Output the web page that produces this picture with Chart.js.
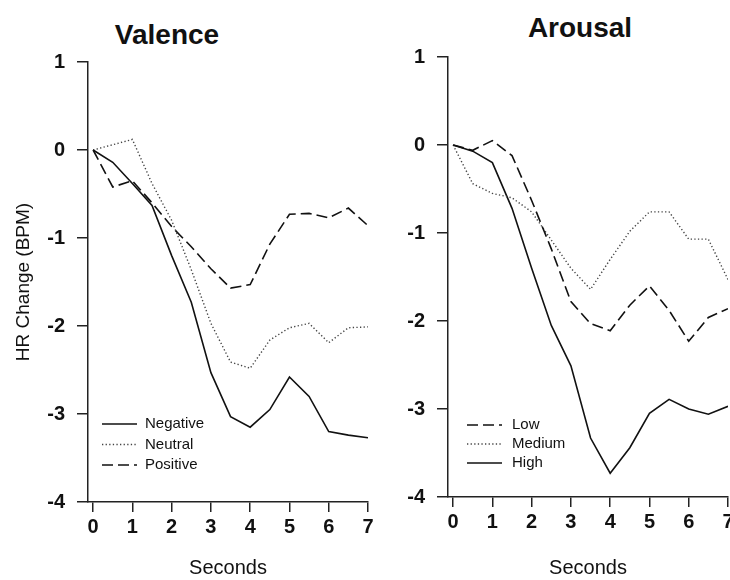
<!DOCTYPE html>
<html>
<head>
<meta charset="utf-8">
<title>HR Change - Valence / Arousal</title>
<script src="https://cdn.jsdelivr.net/npm/chart.js@4.4.1/dist/chart.umd.min.js"></script>
<style>
  html, body { margin: 0; padding: 0; background: #fff; overflow: hidden; }
  body { width: 730px; height: 580px; position: relative; font-family: "Liberation Sans", Arial, sans-serif; }
  canvas { position: absolute; }
  .title { position: absolute; transform: translate(-50%, -50%); font-weight: bold; font-size: 28px; color: #111; white-space: nowrap; }
</style>
</head>
<body>
<div class="title" style="left:167px; top:35px;">Valence</div>
<div class="title" style="left:580px; top:28px;">Arousal</div>
<canvas id="valenceChart" width="385" height="580" style="left:0; top:0;"></canvas>
<canvas id="arousalChart" width="400" height="585" style="left:360px; top:-5px;"></canvas>
<script>
// Tijdstippen (seconden) en tick labels
const seconds = [0, 0.5, 1, 1.5, 2, 2.5, 3, 3.5, 4, 4.5, 5, 5.5, 6, 6.5, 7];
const xTicks = [0, 1, 2, 3, 4, 5, 6, 7];
const yTicks = [1, 0, -1, -2, -3, -4];

// Valence: HR change (BPM)
const negative = [0, -0.14, -0.38, -0.63, -1.2, -1.73, -2.53, -3.03, -3.15, -2.95, -2.58, -2.8, -3.2, -3.24, -3.27];
const neutral  = [0, 0.06, 0.12, -0.38, -0.8, -1.36, -1.97, -2.41, -2.48, -2.16, -2.02, -1.97, -2.19, -2.02, -2.01];
const positive = [0, -0.42, -0.35, -0.6, -0.87, -1.1, -1.35, -1.57, -1.53, -1.07, -0.73, -0.72, -0.77, -0.66, -0.86];

// Arousal: HR change (BPM)
const low    = [0, -0.06, 0.05, -0.12, -0.63, -1.18, -1.78, -2.03, -2.11, -1.82, -1.6, -1.88, -2.23, -1.96, -1.86];
const medium = [0, -0.44, -0.55, -0.6, -0.76, -1.08, -1.4, -1.64, -1.3, -0.98, -0.76, -0.76, -1.07, -1.07, -1.53];
const high   = [0, -0.07, -0.2, -0.72, -1.4, -2.05, -2.51, -3.33, -3.73, -3.44, -3.05, -2.89, -3.0, -3.06, -2.97];

Chart.defaults.font.family = '"Liberation Sans", Arial, sans-serif';
Chart.defaults.color = '#111';

// lijnstijlen
const solid  = { borderColor: '#111', borderWidth: 1.6, borderDash: [] };
const dotted = { borderColor: '#444', borderWidth: 1.4, borderDash: [1.3, 2.3] };
const dashed = { borderColor: '#111', borderWidth: 1.6, borderDash: [11, 5] };

function toPoints(values) {
    return values.map((v, i) => ({ x: seconds[i], y: v }));
}

function makeDataset(label, values, style) {
    return Object.assign({
        label: label,
        data: toPoints(values),
        pointRadius: 0,
        tension: 0,
        fill: false
    }, style);
}

// legenda binnen het plotgebied, getekend uit de datasets
const inlineLegend = {
    id: 'inlineLegend',
    afterDraw(chart, args, opts) {
        const { ctx, chartArea } = chart;
        ctx.save();
        ctx.font = '15px "Liberation Sans", Arial, sans-serif';
        ctx.textBaseline = 'middle';
        ctx.fillStyle = '#111';
        chart.data.datasets.forEach((ds, i) => {
            const x = chartArea.left + opts.left;
            const y = chartArea.bottom - opts.bottom + i * opts.rowHeight;
            ctx.beginPath();
            ctx.setLineDash(ds.borderDash || []);
            ctx.lineWidth = ds.borderWidth;
            ctx.strokeStyle = ds.borderColor;
            ctx.moveTo(x, y);
            ctx.lineTo(x + opts.lineLength, y);
            ctx.stroke();
            ctx.setLineDash([]);
            ctx.fillText(ds.label, x + opts.lineLength + opts.gap, y);
        });
        ctx.restore();
    }
};

function makeOptions(rightPad, xHeight, showYTitle, legendOpts) {
    return {
        responsive: false,
        animation: false,
        layout: { padding: { left: 0, top: 62, right: rightPad, bottom: 0 } },
        plugins: {
            legend: { display: false },
            tooltip: { enabled: false },
            inlineLegend: legendOpts
        },
        scales: {
            x: {
                type: 'linear',
                min: -0.13,
                max: 7,
                afterBuildTicks: s => { s.ticks = xTicks.map(v => ({ value: v })); },
                afterFit: s => { s.height = xHeight; },
                ticks: { font: { size: 20, weight: 'bold' }, color: '#111', padding: 3, maxRotation: 0 },
                grid: { drawOnChartArea: false, drawTicks: true, tickLength: 10, color: '#222', lineWidth: 1.5 },
                border: { display: true, color: '#222', width: 1.5 },
                title: { display: true, text: 'Seconds', font: { size: 20 }, color: '#111', padding: { top: 0, bottom: 0 } }
            },
            y: {
                min: -4,
                max: 1,
                afterBuildTicks: s => { s.ticks = yTicks.map(v => ({ value: v })); },
                afterFit: s => { s.width = 88; },
                ticks: { font: { size: 20, weight: 'bold' }, color: '#111', padding: 12 },
                grid: { drawOnChartArea: false, drawTicks: true, tickLength: 11, color: '#222', lineWidth: 1.5 },
                border: { display: true, color: '#222', width: 1.5 },
                title: { display: showYTitle, text: 'HR Change (BPM)', font: { size: 19 }, color: '#111', padding: { top: 12, bottom: 0 } }
            }
        }
    };
}

new Chart(document.getElementById('valenceChart'), {
    type: 'line',
    data: {
        datasets: [
            makeDataset('Negative', negative, solid),
            makeDataset('Neutral', neutral, dotted),
            makeDataset('Positive', positive, dashed)
        ]
    },
    options: makeOptions(17, 78, true, { left: 14, bottom: 78, rowHeight: 20.5, lineLength: 35, gap: 8 }),
    plugins: [inlineLegend]
});

new Chart(document.getElementById('arousalChart'), {
    type: 'line',
    data: {
        datasets: [
            makeDataset('Low', low, dashed),
            makeDataset('Medium', medium, dotted),
            makeDataset('High', high, solid)
        ]
    },
    options: makeOptions(32, 83, false, { left: 19, bottom: 72, rowHeight: 19, lineLength: 35, gap: 10 }),
    plugins: [inlineLegend]
});
</script>
</body>
</html>
